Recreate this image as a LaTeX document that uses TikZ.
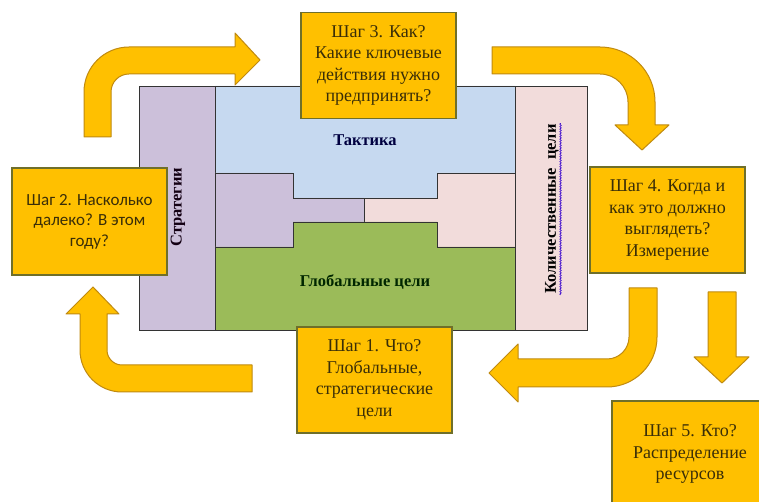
\documentclass[tikz,border=0pt]{standalone}
\usepackage{fontspec}
\setmainfont{Liberation Serif}
\newfontfamily\sanscal{Carlito}
\usepackage{tikz}
\usetikzlibrary{decorations.pathmorphing}

\definecolor{stepfill}{HTML}{FFC000}
\definecolor{boxline}{HTML}{6F6F2A}
\definecolor{arrowline}{HTML}{C08A10}
\definecolor{steptext}{HTML}{3A2E08}
\definecolor{stratfill}{HTML}{CCC0DA}
\definecolor{tactfill}{HTML}{C6D9F0}
\definecolor{quantfill}{HTML}{F2DCDB}
\definecolor{globfill}{HTML}{9BBB59}

\begin{document}
\begin{tikzpicture}[x=1pt, y=1pt,
  stepbox/.style={draw=boxline, fill=stepfill, line width=1.2pt,
    minimum width=155pt, minimum height=106pt, align=center,
    text=steptext, font=\fontsize{18}{21.5}\selectfont},
  zone/.style={draw=black!80, line width=0.8pt},
  zonetext/.style={font=\bfseries\fontsize{16.5}{20}\selectfont, inner sep=1pt},
  barrow/.style={fill=stepfill, draw=arrowline, line width=1pt, line join=round},
  squiggle/.style={draw=blue!60!violet, line width=0.6pt, decorate,
    decoration={snake, amplitude=0.8pt, segment length=2.5pt}}
]
  \clip (0,0) rectangle (759,502);
  \fill[white] (0,0) rectangle (759,502);

  % main field
  \draw[zone, fill=stratfill] (139,172) rectangle (215,416);
  \draw[zone, fill=quantfill] (515,172) rectangle (587,416);
  \draw[zone, fill=tactfill] (215,416) -- (515,416) -- (515,329) -- (437,329)
    -- (437,304) -- (293,304) -- (293,329) -- (215,329) -- cycle;
  \draw[zone, fill=stratfill] (215,329) -- (293,329) -- (293,304) -- (364,304)
    -- (364,280) -- (293,280) -- (293,255) -- (215,255) -- cycle;
  \draw[zone, fill=quantfill] (515,329) -- (437,329) -- (437,304) -- (364,304)
    -- (364,280) -- (437,280) -- (437,255) -- (515,255) -- cycle;
  \draw[zone, fill=globfill] (215,255) -- (293,255) -- (293,280) -- (437,280)
    -- (437,255) -- (515,255) -- (515,172) -- (215,172) -- cycle;

  \node[zonetext, text=black!75!blue] (tactics) at (365,362) {Тактика};
  \node[zonetext, text=black!85!green] (global) at (365,220) {Глобальные цели};
  \node[zonetext, rotate=90, text=black!85!violet] (strategy) at (178,295) {Стратегии};
  \node[zonetext, rotate=90] (quant) at (552,293) {Количественные~~цели};
  \draw[squiggle] ([xshift=0.5pt]quant.south west) -- ([xshift=0.5pt]quant.south east);

  % arrows
  \draw[barrow] (84,365) -- (84,410) arc[start angle=180, end angle=90, radius=45pt]
    -- (235,455) -- (235,469) -- (260,442) -- (235,417) -- (235,428)
    -- (129,428) arc[start angle=90, end angle=180, radius=18pt] -- (111,365) -- cycle;
  \draw[barrow] (492,455) -- (600,455) arc[start angle=90, end angle=0, radius=55pt]
    -- (655,377) -- (669,377) -- (642,352) -- (615,377) -- (628,377)
    -- (628,400) arc[start angle=0, end angle=90, radius=28pt] -- (492,428) -- cycle;
  \draw[barrow] (629,214) -- (657,214) -- (657,165) arc[start angle=0, end angle=-90, radius=50pt]
    -- (518,115) -- (518,100) -- (489,129) -- (518,158) -- (518,143)
    -- (607,143) arc[start angle=-90, end angle=0, radius=22pt] -- cycle;
  \draw[barrow] (708,210) -- (736,210) -- (736,145) -- (749,145) -- (722,119)
    -- (694,145) -- (708,145) -- cycle;
  \draw[barrow] (252,137) -- (252,110) -- (122,110) arc[start angle=270, end angle=180, radius=42pt]
    -- (80,188) -- (66,188) -- (93,215) -- (119,188) -- (107,188)
    -- (107,152) arc[start angle=180, end angle=270, radius=15pt] -- cycle;

  % steps
  \node[stepbox] (step3) at (378.5,436.5) {Шаг 3. Как?\\Какие ключевые\\действия нужно\\предпринять?};
  \node[stepbox, minimum height=107pt, font=\sanscal\fontsize{17}{20.5}\selectfont]
    (step2) at (89.5,280.5) {Шаг 2. Насколько\\далеко? В этом\\году?};
  \node[stepbox] (step4) at (667.5,282) {Шаг 4. Когда и\\как это должно\\выглядеть?\\Измерение};
  \node[stepbox] (step1) at (374.5,122) {Шаг 1. Что?\\Глобальные,\\стратегические\\цели};
  \node[stepbox, minimum width=156pt] (step5) at (690,48) {Шаг 5. Кто?\\Распределение\\ресурсов};
\end{tikzpicture}
\end{document}
